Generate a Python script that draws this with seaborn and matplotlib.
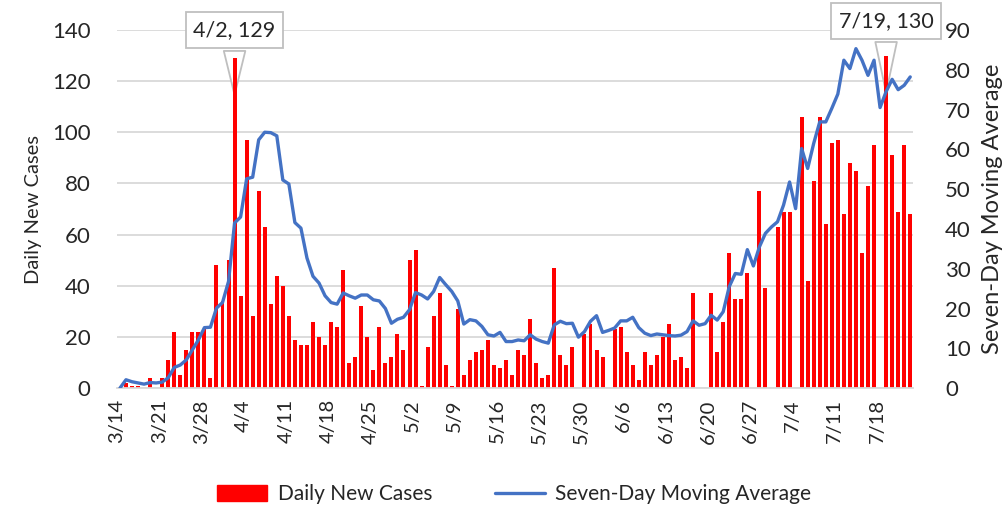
import numpy as np
import matplotlib
matplotlib.use("Agg")
import matplotlib.pyplot as plt
from matplotlib.patches import Patch
from matplotlib.lines import Line2D
import seaborn as sns

# daily new cases, one value per day from 3/14 to 7/23 (rows = weeks)
cases = [
    0, 2, 1, 1, 0, 4, 0,
    4, 11, 22, 5, 15, 22, 22,
    23, 4, 48, 34, 50, 129, 36,
    97, 28, 77, 63, 33, 44, 40,
    28, 19, 17, 17, 26, 20, 17,
    26, 24, 46, 10, 12, 32, 20,
    7, 24, 10, 12, 21, 15, 50,
    54, 1, 16, 28, 37, 9, 1,
    31, 5, 11, 14, 15, 19, 9,
    8, 11, 5, 15, 13, 27, 10,
    4, 5, 47, 13, 9, 16, 0,
    21, 25, 15, 12, 0, 23, 24,
    14, 9, 3, 14, 9, 13, 20,
    25, 11, 12, 8, 37, 0, 0,
    37, 14, 26, 53, 35, 35, 45,
    0, 77, 39, 0, 63, 69, 69,
    0, 106, 42, 81, 106, 64, 96,
    97, 68, 88, 85, 53, 79, 95,
    0, 130, 91, 69, 95, 68,
]

# seven-day moving average
moving_avg = [
    0.0, 2.1, 1.6, 1.3, 1.0, 1.4, 1.3,
    1.5, 2.6, 5.2, 5.8, 7.1, 9.6, 12.1,
    15.2, 15.3, 20.1, 21.5, 26.8, 41.5, 43.0,
    52.6, 53.0, 62.4, 64.3, 64.2, 63.4, 52.3,
    51.3, 41.6, 40.2, 32.7, 28.1, 26.4, 23.2,
    21.5, 21.1, 23.9, 23.2, 22.6, 23.4, 23.4,
    22.2, 21.9, 20.0, 16.3, 17.3, 17.8, 19.7,
    24.0, 23.4, 22.4, 24.3, 27.8, 26.0, 24.3,
    21.9, 16.1, 17.2, 16.9, 15.5, 13.4, 13.1,
    14.0, 11.7, 11.7, 12.1, 11.9, 13.4, 12.3,
    11.7, 11.3, 15.9, 16.8, 16.2, 16.3, 12.8,
    14.2, 16.8, 18.2, 14.0, 14.5, 15.1, 16.9,
    16.9, 17.8, 15.2, 13.8, 13.2, 13.6, 13.4,
    13.2, 13.1, 13.3, 14.2, 16.9, 15.8, 16.2,
    18.3, 17.1, 19.2, 25.5, 28.8, 28.6, 34.8,
    30.7, 35.5, 38.9, 40.5, 41.8, 46.0, 51.8,
    45.1, 60.2, 55.2, 61.5, 66.9, 66.9, 70.3,
    73.9, 82.4, 80.3, 85.3, 82.4, 78.6, 82.4,
    70.5, 74.5, 77.6, 75.0, 76.1, 78.2,
]

week_labels = ["3/14", "3/21", "3/28", "4/4", "4/11", "4/18", "4/25", "5/2",
               "5/9", "5/16", "5/23", "5/30", "6/6", "6/13", "6/20", "6/27",
               "7/4", "7/11", "7/18"]

callouts = [("4/2, 129", 19, 129), ("7/19, 130", 127, 130)]

RED = "#FF0000"
BLUE = "#4472C4"
GRID = "#D9D9D9"

sns.set_style("white")
plt.rcParams["font.family"] = ["Lato", "DejaVu Sans"]

day = np.arange(len(cases))

fig = plt.figure(figsize=(10.08, 5.08), dpi=100)
ax = fig.add_axes([0.116, 0.236, 0.79, 0.705])

sns.barplot(x=day, y=cases, native_scale=True, color=RED, saturation=1,
            width=0.66, errorbar=None, linewidth=0, ax=ax, zorder=2)

ax.set_xlim(-0.5, len(cases) - 0.5)
ax.set_ylim(0, 140)
ax.set_yticks(range(0, 141, 20))
ax.yaxis.grid(True, color=GRID, linewidth=1.3, zorder=0)
ax.set_axisbelow(True)
ax.set_xticks(np.arange(len(week_labels)) * 7 - 0.5)
ax.set_xticklabels(week_labels, rotation=90, fontsize=14.5)
ax.tick_params(axis="x", length=5, color="#BFBFBF", width=1, pad=3)
ax.tick_params(axis="y", length=0, labelsize=16, pad=19)
ax.set_ylabel("Daily New Cases", fontsize=14.5, labelpad=7)
ax.set_xlabel("")
for s in ["top", "left", "right"]:
    ax.spines[s].set_visible(False)
ax.spines["bottom"].set_color(GRID)
ax.spines["bottom"].set_linewidth(1.3)

ax2 = ax.twinx()
sns.lineplot(x=day, y=moving_avg, color=BLUE, linewidth=2.4, ax=ax2)
ax2.set_ylim(0, 90)
ax2.set_yticks(range(0, 91, 10))
ax2.tick_params(axis="y", length=0, labelsize=16, pad=23)
ax2.set_ylabel("Seven-Day Moving Average", fontsize=17, labelpad=8)
for s in ax2.spines.values():
    s.set_visible(False)
ax2.grid(False)

# callout boxes: pointer sits above the grid but under the bars
for text, xi, val in callouts:
    ax.annotate(text, xy=(xi, val * 0.88), xytext=(xi, val + 11 if xi < 60 else val + 13.5),
                ha="center", va="center", fontsize=15.5, annotation_clip=False, zorder=1,
                bbox=dict(boxstyle="square,pad=0.35", fc="white", ec="#BFBFBF", lw=1.3),
                arrowprops=dict(arrowstyle="wedge,tail_width=1.0,shrink_factor=0.5",
                                fc="white", ec="#BFBFBF", lw=1.3))

handles = [Patch(facecolor=RED, edgecolor=RED, label="Daily New Cases"),
           Line2D([0], [0], color=BLUE, linewidth=2.4, label="Seven-Day Moving Average")]
fig.legend(handles=handles, loc="center", bbox_to_anchor=(0.51, 0.027), ncol=2,
           frameon=False, fontsize=15, handlelength=2.4, handleheight=0.8,
           columnspacing=3.0, handletextpad=0.5)

fig.savefig("out.png", dpi=100)
